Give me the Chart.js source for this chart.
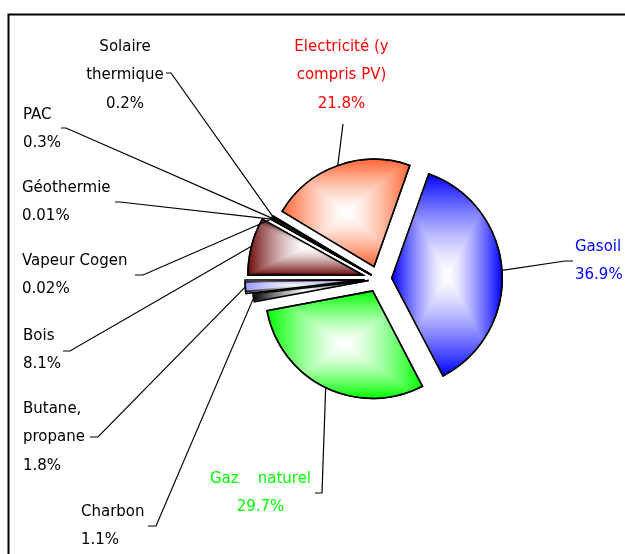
<!DOCTYPE html>
<html lang="fr">
<head>
<meta charset="utf-8">
<title>Consommation d'énergie par source</title>
<script src="https://cdn.jsdelivr.net/npm/chart.js@4.4.1/dist/chart.umd.min.js"></script>
<style>
    html, body { margin: 0; padding: 0; background: #fff; overflow: hidden; }
    canvas { display: block; }
</style>
</head>
<body>
<canvas id="graphe" width="625" height="554"></canvas>
<script>
// Données : part de chaque énergie (%), dans le sens horaire à partir du gasoil
const categories = [
    ['Gasoil'],
    ['Gaz    naturel'],
    ['Charbon'],
    ['Butane,', 'propane'],
    ['Bois'],
    ['Vapeur Cogen'],
    ['Géothermie'],
    ['PAC'],
    ['Solaire', 'thermique'],
    ['Electricité (y', 'compris PV)']
];
const parts = [36.9, 29.7, 1.1, 1.8, 8.1, 0.02, 0.01, 0.3, 0.2, 21.8];

const couleursParts = ['#0000FF', '#00FF00', '#000000', '#9999FF', '#6E0A0A', '#993366', '#FFFFCC', '#9999FF', '#CCCCFF', '#FF6633'];
const couleursTextes = ['#0000FF', '#00FF00', '#000', '#000', '#000', '#000', '#000', '#000', '#000', '#FF0000'];
const decalages = [53, 53, 40, 56, 64, 32, 32, 32, 32, 53];

// x, ligne de base de la 1re ligne, alignement, trait de rappel [x départ, y, x coude]
const etiquettes = [
    { x: 575, y: 251, align: 'left', coude: [573, 261, 565] },
    { x: 260.5, y: 483, align: 'center', coude: [315, 493, 322] },
    { x: 81, y: 516, align: 'left', coude: [148, 526, 156] },
    { x: 23, y: 413, align: 'left', coude: [90, 437, 98] },
    { x: 23, y: 340, align: 'left', coude: [63, 351, 70] },
    { x: 22, y: 265, align: 'left', coude: [135, 275, 143] },
    { x: 22, y: 192, align: 'left', coude: [115, 202, 120] },
    { x: 23, y: 119, align: 'left', coude: [61, 128, 66] },
    { x: 125, y: 51, align: 'center', coude: [166, 73, 171] },
    { x: 341.5, y: 51, align: 'center', coude: [343, 124, 343] }
];
const interligne = 28.3;

// position réelle d'une part (centre décalé, rayon), comme la dessine ArcElement
function geometrie(arc) {
    const p = arc.getProps(['x', 'y', 'startAngle', 'endAngle', 'outerRadius', 'circumference']);
    const dec = (arc.options.offset || 0) / 4;
    const mid = (p.startAngle + p.endAngle) / 2;
    const fix = 1 - Math.sin(Math.min(Math.PI, p.circumference));
    return {
        cx: p.x + Math.cos(mid) * dec,
        cy: p.y + Math.sin(mid) * dec,
        r: p.outerRadius + dec * fix,
        start: p.startAngle,
        end: p.endAngle,
        mid: mid
    };
}

// rectangle englobant d'une part
function boite(g) {
    const pts = [[g.cx, g.cy],
        [g.cx + Math.cos(g.start) * g.r, g.cy + Math.sin(g.start) * g.r],
        [g.cx + Math.cos(g.end) * g.r, g.cy + Math.sin(g.end) * g.r]];
    for (let k = -4; k <= 8; k++) {
        const a = k * Math.PI / 2;
        if (a > g.start && a < g.end) pts.push([g.cx + Math.cos(a) * g.r, g.cy + Math.sin(a) * g.r]);
    }
    const xs = pts.map(p => p[0]);
    const ys = pts.map(p => p[1]);
    return { x0: Math.min(...xs), x1: Math.max(...xs), y0: Math.min(...ys), y1: Math.max(...ys) };
}

// voile blanc rectangulaire : opaque au centre de la boîte, transparent sur ses bords
function voile(b) {
    const x0 = Math.floor(b.x0), y0 = Math.floor(b.y0);
    const w = Math.ceil(b.x1) - x0 + 1, h = Math.ceil(b.y1) - y0 + 1;
    const mx = (b.x0 + b.x1) / 2, my = (b.y0 + b.y1) / 2;
    const hw = Math.max((b.x1 - b.x0) / 2, 0.5), hh = Math.max((b.y1 - b.y0) / 2, 0.5);
    const c = document.createElement('canvas');
    c.width = w;
    c.height = h;
    const cc = c.getContext('2d');
    const img = cc.createImageData(w, h);
    for (let j = 0; j < h; j++) {
        for (let i = 0; i < w; i++) {
            const t = Math.min(1, Math.max(Math.abs(x0 + i + 0.5 - mx) / hw, Math.abs(y0 + j + 0.5 - my) / hh));
            const k = (j * w + i) * 4;
            img.data[k] = 255;
            img.data[k + 1] = 255;
            img.data[k + 2] = 255;
            img.data[k + 3] = Math.round(255 * (1 - Math.pow(t, 1.4)));
        }
    }
    cc.putImageData(img, 0, 0);
    return { c, x0, y0 };
}

const cadre = {
    id: 'cadre',
    beforeDraw(chart) {
        const ctx = chart.ctx;
        ctx.save();
        ctx.fillStyle = '#fff';
        ctx.fillRect(0, 0, chart.width, chart.height);
        ctx.strokeStyle = '#000';
        ctx.lineWidth = 2;
        ctx.strokeRect(8.5, 14.5, 700, 600);
        ctx.restore();
    }
};

// dégradé du centre vers les bords de chaque part
const degrade = {
    id: 'degrade',
    afterDatasetsDraw(chart) {
        const ctx = chart.ctx;
        chart.getDatasetMeta(0).data.forEach((arc) => {
            const g = geometrie(arc);
            const v = voile(boite(g));

            const tranche = new Path2D();
            tranche.moveTo(g.cx, g.cy);
            tranche.arc(g.cx, g.cy, g.r, g.start, g.end);
            tranche.closePath();

            ctx.save();
            ctx.clip(tranche);
            ctx.drawImage(v.c, v.x0, v.y0);
            ctx.restore();

            ctx.save();
            ctx.lineWidth = arc.options.borderWidth;
            ctx.strokeStyle = arc.options.borderColor;
            ctx.lineJoin = 'miter';
            ctx.stroke(tranche);
            ctx.restore();
        });
    }
};

// étiquettes + traits de rappel
const legendes = {
    id: 'legendes',
    afterDraw(chart) {
        const ctx = chart.ctx;
        ctx.save();
        ctx.font = '15px "DejaVu Sans"';
        ctx.textBaseline = 'alphabetic';
        chart.getDatasetMeta(0).data.forEach((arc, i) => {
            const g = geometrie(arc);
            const e = etiquettes[i];
            const px = g.cx + Math.cos(g.mid) * g.r;
            const py = g.cy + Math.sin(g.mid) * g.r;

            ctx.strokeStyle = '#000';
            ctx.lineWidth = 1.2;
            ctx.beginPath();
            ctx.moveTo(e.coude[0], e.coude[1]);
            ctx.lineTo(e.coude[2], e.coude[1]);
            ctx.lineTo(px, py);
            ctx.stroke();

            const lignes = chart.data.labels[i].concat([parts[i] + '%']);
            ctx.fillStyle = couleursTextes[i];
            ctx.textAlign = e.align;
            lignes.forEach((t, k) => ctx.fillText(t, e.x, e.y + k * interligne));
        });
        ctx.restore();
    }
};

new Chart(document.getElementById('graphe'), {
    type: 'pie',
    data: {
        labels: categories,
        datasets: [{
            data: parts,
            backgroundColor: couleursParts,
            borderColor: '#000',
            borderWidth: 1.5,
            borderJoinStyle: 'miter',
            offset: decalages,
            rotation: 19.5,
            radius: 107
        }]
    },
    options: {
        responsive: false,
        animation: false,
        events: [],
        layout: { padding: { left: 200, right: 68, top: 24, bottom: 20 } },
        plugins: {
            legend: { display: false },
            tooltip: { enabled: false }
        }
    },
    plugins: [cadre, degrade, legendes]
});
</script>
</body>
</html>
